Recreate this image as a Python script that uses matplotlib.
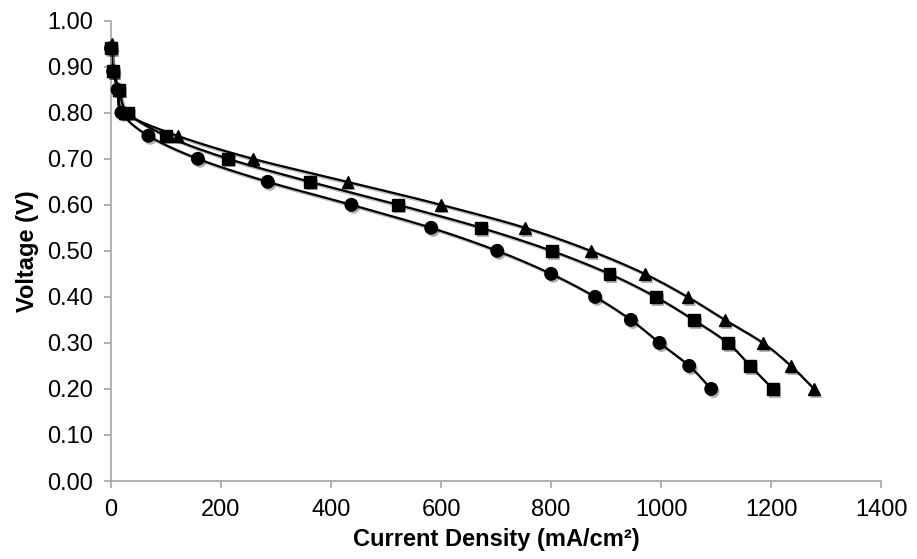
import numpy as np
import matplotlib
matplotlib.use("Agg")
import matplotlib.pyplot as plt
import matplotlib.patheffects as pe

plt.rcParams['font.family'] = ['Liberation Sans', 'DejaVu Sans']

# Data
circle_x = [0, 4, 12, 19, 68, 158, 285, 437, 582, 702, 800, 880, 945, 997, 1051, 1091]
circle_y = [0.94, 0.89, 0.85, 0.80, 0.75, 0.70, 0.65, 0.60, 0.55, 0.50, 0.45, 0.40, 0.35, 0.30, 0.25, 0.20]

square_x = [0, 3, 15, 31, 100, 213, 362, 522, 673, 801, 906, 990, 1059, 1121, 1162, 1203]
square_y = [0.94, 0.89, 0.85, 0.80, 0.75, 0.70, 0.65, 0.60, 0.55, 0.50, 0.45, 0.40, 0.35, 0.30, 0.25, 0.20]

tri_x = [1, 3, 14, 25, 121, 258, 430, 600, 753, 872, 970, 1048, 1116, 1185, 1236, 1278]
tri_y = [0.95, 0.89, 0.85, 0.80, 0.75, 0.70, 0.65, 0.60, 0.55, 0.50, 0.45, 0.40, 0.35, 0.30, 0.25, 0.20]

x_ticks = [0, 200, 400, 600, 800, 1000, 1200, 1400]
y_ticks = [0.0, 0.1, 0.2, 0.3, 0.4, 0.5, 0.6, 0.7, 0.8, 0.9, 1.0]


def smooth(xs, ys, xscale=1400.0, yscale=1.0, n=30):
    """Catmull-Rom spline through the points (drawing only)."""
    P = np.column_stack([np.asarray(xs, float) / xscale, np.asarray(ys, float) / yscale])
    P = np.vstack([P[0] - (P[1] - P[0]), P, P[-1] + (P[-1] - P[-2])])
    out = []
    for i in range(1, len(P) - 2):
        p0, p1, p2, p3 = P[i - 1], P[i], P[i + 1], P[i + 2]
        t = np.linspace(0, 1, n, endpoint=False)[:, None]
        seg = 0.5 * ((2 * p1) + (-p0 + p2) * t + (2 * p0 - 5 * p1 + 4 * p2 - p3) * t ** 2
                     + (-p0 + 3 * p1 - 3 * p2 + p3) * t ** 3)
        out.append(seg)
    out.append(P[-2][None, :])
    out = np.vstack(out)
    return out[:, 0] * xscale, out[:, 1] * yscale


fig = plt.figure(figsize=(9.17, 5.59), dpi=100)
ax = fig.add_axes([0.121, 0.1395, 0.840, 0.8235])

shadow_line = [pe.SimpleLineShadow(offset=(1.5, -1.5), alpha=0.25), pe.Normal()]
for xs, ys, mk, ms in [(circle_x, circle_y, 'o', 9),
                       (square_x, square_y, 's', 8.5),
                       (tri_x, tri_y, '^', 8.5)]:
    sx, sy = smooth(xs, ys)
    ax.plot(sx, sy, color='black', lw=1.6, path_effects=shadow_line, zorder=2, clip_on=False)
    ax.plot(xs, ys, linestyle='none', marker=mk, ms=ms, color='black',
            path_effects=[pe.SimplePatchShadow(offset=(1.5, -2), alpha=0.3), pe.Normal()],
            zorder=3, clip_on=False)

ax.set_xlim(0, 1400)
ax.set_ylim(0, 1.0)
ax.set_xticks(x_ticks)
ax.set_yticks(y_ticks)
ax.set_xticklabels([str(v) for v in x_ticks])
ax.set_yticklabels([f"{v:.2f}" for v in y_ticks])

for s in ['top', 'right']:
    ax.spines[s].set_visible(False)
for s in ['left', 'bottom']:
    ax.spines[s].set_color('#a6a6a6')
    ax.spines[s].set_linewidth(1.2)
ax.tick_params(axis='both', colors='#a6a6a6', length=5, width=1.2, labelcolor='black',
               labelsize=17, direction='out')
ax.tick_params(axis='y', pad=8)
ax.tick_params(axis='x', pad=8)

ax.set_xlabel('Current Density (mA/cm²)', fontsize=17, fontweight='bold', labelpad=5)
ax.set_ylabel('Voltage (V)', fontsize=17, fontweight='bold', labelpad=6)

fig.savefig('out.png', dpi=100)
